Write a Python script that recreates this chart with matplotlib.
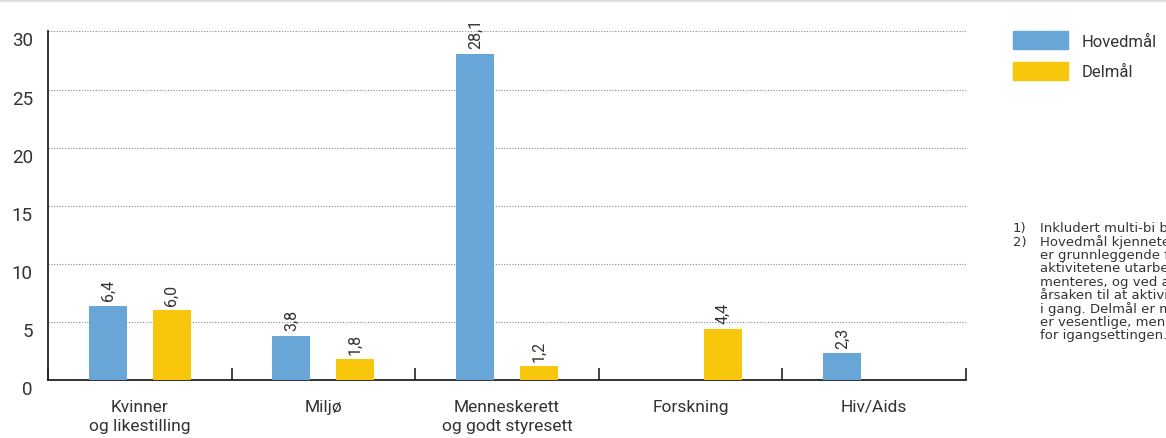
import numpy as np
import matplotlib as mpl
mpl.use('Agg')
import matplotlib.pyplot as plt
import matplotlib.transforms as mtransforms
from matplotlib.patches import Patch
from matplotlib.lines import Line2D

plt.rcParams['font.family'] = ['Roboto', 'DejaVu Sans']

# data
categories = ['Kvinner\nog likestilling', 'Miljø', 'Menneskerett\nog godt styresett', 'Forskning', 'Hiv/Aids']
hovedmal = [6.4, 3.8, 28.1, None, 2.3]
delmal = [6.0, 1.8, 1.2, 4.4, None]
series_names = ['Hovedmål', 'Delmål']
yticks = [0, 5, 10, 15, 20, 25, 30]

notes = [
    ('1)', 'Inkludert multi-bi bistand.'),
    ('2)', 'Hovedmål kjennetegnes ved at målet'),
    ('', 'er grunnleggende for at'),
    ('', 'aktivitetene utarbeides og imple-'),
    ('', 'menteres, og ved at målet er'),
    ('', 'årsaken til at aktiviteten settes'),
    ('', 'i gang. Delmål er mål som'),
    ('', 'er vesentlige, men ikke avgjørende'),
    ('', 'for igangsettingen.'),
]

blue = '#67a6d6'
yellow = '#f8c60a'
txt = '#333333'

fig = plt.figure(figsize=(11.66, 4.39), dpi=100)
ax = fig.add_axes([0.0412, 0.132, 0.7873, 0.794])

x = np.arange(len(categories))
w = 0.207
off = 0.174

def fmt(v):
    return f'{v:.1f}'.replace('.', ',')

for vals, dx, col in [(hovedmal, -off, blue), (delmal, off, yellow)]:
    for xi, v in zip(x, vals):
        if v is None:
            continue
        ax.bar(xi + dx, v, width=w, color=col, zorder=3)
        ax.annotate(fmt(v), (xi + dx, v), xytext=(0, 4), textcoords='offset points',
                    rotation=90, ha='center', va='bottom', fontsize=11.5, color=txt)

ax.set_xlim(-0.5, len(categories) - 0.5)
ax.set_ylim(0, 30)
ax.set_yticks(yticks)
ax.set_yticklabels([str(t) for t in yticks], fontsize=13.5, color=txt)
ax.tick_params(axis='y', length=0, pad=11)
shift = mtransforms.ScaledTranslation(0, -5 / 72, fig.dpi_scale_trans)
for lab in ax.get_yticklabels():
    lab.set_transform(lab.get_transform() + shift)

# category boundary ticks
ax.set_xticks(np.arange(len(categories) + 1) - 0.5)
ax.set_xticklabels([])
ax.tick_params(axis='x', direction='in', length=9, width=1.2, color='#222222')
ax.set_xticks(x, minor=True)
ax.set_xticklabels(categories, minor=True, fontsize=12.5, color=txt, linespacing=1.28)
ax.tick_params(axis='x', which='minor', length=0, pad=14)

for t in yticks[1:]:
    ax.axhline(t, color='#888888', lw=0.8, ls=(0, (1, 1.5)), zorder=1)

for s in ['top', 'right']:
    ax.spines[s].set_visible(False)
ax.spines['left'].set_linewidth(1.3)
ax.spines['bottom'].set_linewidth(1.3)
ax.spines['left'].set_color('#222222')
ax.spines['bottom'].set_color('#222222')
ax.set_facecolor('none')

# legend
handles = [Patch(color=blue), Patch(color=yellow)]
fig.legend(handles, series_names, loc='upper left', bbox_to_anchor=(1013 / 1166, 1 - 32 / 439),
           frameon=False, fontsize=12, handlelength=3.3, handleheight=1.3,
           handletextpad=0.8, labelspacing=0.75, labelcolor=txt,
           borderpad=0, borderaxespad=0)

# notes
y0 = 1 - 229 / 439
for i, (num, line) in enumerate(notes):
    yy = y0 - i * 13.3 / 439
    if num:
        fig.text(1013 / 1166, yy, num, fontsize=9.5, color=txt, va='center', family='DejaVu Sans')
    fig.text(1040 / 1166, yy, line, fontsize=9.5, color=txt, va='center', family='DejaVu Sans')

fig.add_artist(Line2D([0, 1], [0.997, 0.997], color='#dddddd', lw=2, transform=fig.transFigure))

fig.savefig('out.png', dpi=100)
